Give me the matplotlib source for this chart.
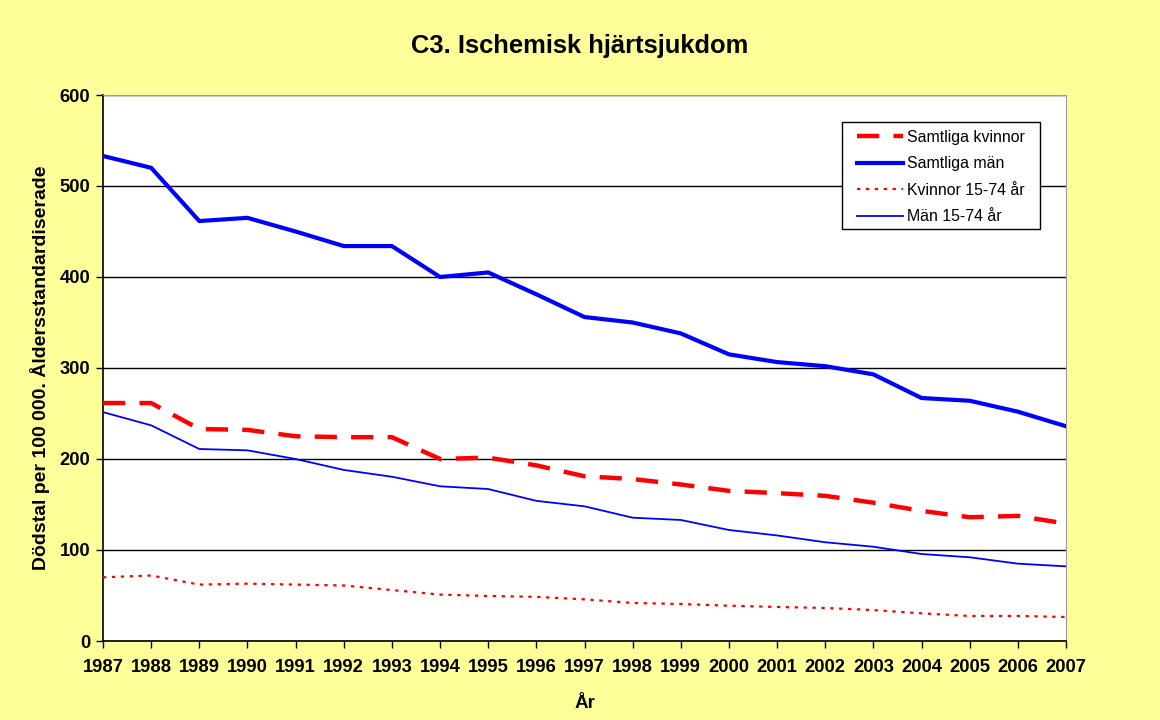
import matplotlib
matplotlib.use("Agg")
import matplotlib.pyplot as plt
from matplotlib.patches import Rectangle

plt.rcParams['font.family'] = ['Liberation Sans', 'DejaVu Sans']

years = list(range(1987, 2008))
samtliga_kvinnor = [261.5, 261.5, 233, 232, 225, 224, 224, 200, 201.5, 193, 181, 178,
                    172, 165, 162.5, 159.5, 152, 143, 136, 137.5, 129]
samtliga_man = [533, 520, 461.5, 465, 450, 434, 434, 400, 405, 381, 356, 350,
                338, 315, 306.5, 302, 293, 267, 264, 252, 236]
kvinnor_15_74 = [70, 72, 62, 63, 62, 61, 56, 51, 49.5, 48.5, 45.8, 41.8,
                 40.7, 38.8, 37.4, 36.3, 34, 30.4, 27.5, 27.5, 26.4]
man_15_74 = [251.5, 237, 211, 209.5, 200, 188, 180.5, 170, 167, 154, 148, 135.5,
             133, 122, 116, 108.5, 103.6, 95.6, 92, 85, 82]

W, H = 1160, 720
fig = plt.figure(figsize=(W / 100, H / 100), dpi=100)
fig.patch.set_facecolor("#FFFF99")
ax = fig.add_axes([103 / W, 1 - 641 / H, (1066 - 103) / W, (641 - 95) / H])
ax.set_facecolor("white")

ax.plot(years, samtliga_kvinnor, color="#FF0000", lw=3.2, dashes=(5, 3.2),
        label="Samtliga kvinnor", zorder=3)
ax.plot(years, samtliga_man, color="#0000FF", lw=3, label="Samtliga män", zorder=3)
ax.plot(years, kvinnor_15_74, color="#FF0000", lw=1.6, dashes=(1.5, 2.5),
        label="Kvinnor 15-74 år", zorder=3)
ax.plot(years, man_15_74, color="#0000FF", lw=1.3, label="Män 15-74 år", zorder=3)

ax.set_xlim(1987, 2007)
ax.set_ylim(0, 600)
ax.set_xticks(years)
ax.set_yticks(range(0, 601, 100))
ax.yaxis.grid(True, color="black", lw=1)
ax.set_axisbelow(True)

for lab in ax.get_xticklabels() + ax.get_yticklabels():
    lab.set_fontweight("bold")
    lab.set_fontsize(13.2)
ax.tick_params(axis="both", direction="out", length=5, width=1, color="black")
ax.tick_params(axis="x", pad=8)
ax.tick_params(axis="y", pad=4)

for side in ["top", "right"]:
    ax.spines[side].set_color("#999999")
for side in ["left", "bottom"]:
    ax.spines[side].set_color("black")
    ax.spines[side].set_linewidth(1.2)

ax.set_xlabel("År", fontsize=13.5, fontweight="bold", labelpad=14)
ax.set_ylabel("Dödstal per 100 000. Åldersstandardiserade", fontsize=14,
              fontweight="bold", labelpad=7)
fig.text(0.5, 1 - 46 / H, "C3. Ischemisk hjärtsjukdom", ha="center", va="center",
         fontsize=18.4, fontweight="bold")

# legend box drawn separately (Excel-like padding)
box = Rectangle((842 / W, 1 - 229 / H), (1040 - 842) / W, (229 - 122) / H,
                transform=fig.transFigure, facecolor="white", edgecolor="black",
                lw=1, zorder=4, clip_on=False)
ax.add_patch(box)
leg = ax.legend(loc="upper left", bbox_to_anchor=(857 / W, 1 - 130 / H),
                bbox_transform=fig.transFigure, fontsize=11.4, frameon=False,
                handlelength=2.9, handletextpad=0.25, labelspacing=0.72,
                borderpad=0, borderaxespad=0)
leg.set_zorder(5)

fig.savefig("out.png", dpi=100, facecolor=fig.get_facecolor())
